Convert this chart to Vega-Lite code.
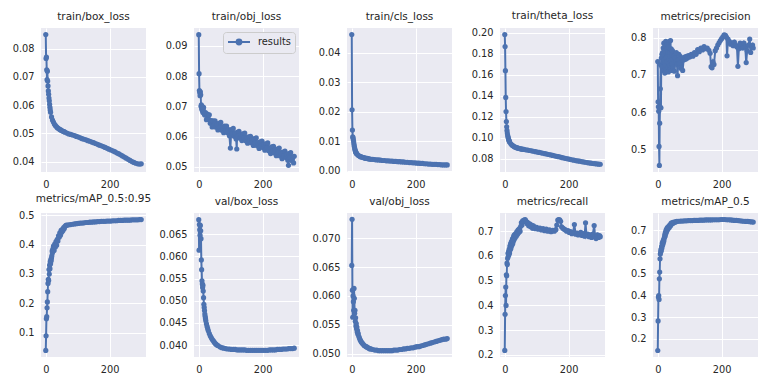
{
"$schema": "https://vega.github.io/schema/vega-lite/v6.json",
"background": "white",
"padding": {"left": 12, "top": 11, "right": 5, "bottom": 5},
"config": {
  "view": {"fill": "#EAEAF2", "stroke": null, "continuousWidth": 105, "continuousHeight": 144},
  "axis": {"domain": false, "ticks": false, "tickSize": 0, "gridColor": "#FFFFFF", "gridWidth": 1, "labelFont": "DejaVu Sans", "labelFontSize": 9.8, "labelColor": "#262626", "labelPadding": 7, "title": null, "labelFlush": false, "labelOverlap": false},
  "title": {"font": "DejaVu Sans", "fontSize": 10.5, "fontWeight": "normal", "color": "#262626", "frame": "group", "anchor": "middle", "offset": 6},
  "line": {"color": "#4C72B0", "strokeWidth": 2},
  "point": {"color": "#4C72B0", "filled": true, "size": 27, "opacity": 1}
},
"datasets": {
"box": [
{"epoch":0,"value":0.0850},{"epoch":1,"value":0.0765},{"epoch":2,"value":0.0770},{"epoch":3,"value":0.0725},{"epoch":4,"value":0.0690},{"epoch":5,"value":0.0720},{"epoch":6,"value":0.0685},{"epoch":7,"value":0.0668},{"epoch":8,"value":0.0650},{"epoch":9,"value":0.0638},{"epoch":10,"value":0.0625},{"epoch":11,"value":0.0615},{"epoch":12,"value":0.0603},{"epoch":13,"value":0.0592},{"epoch":14,"value":0.0583},{"epoch":15,"value":0.0575},{"epoch":18,"value":0.0558},{"epoch":21,"value":0.0547},{"epoch":24,"value":0.0540},{"epoch":27,"value":0.0533},{"epoch":30,"value":0.0528},{"epoch":33,"value":0.0524},{"epoch":36,"value":0.0520},{"epoch":39,"value":0.0518},{"epoch":42,"value":0.0515},{"epoch":45,"value":0.0513},{"epoch":48,"value":0.0511},{"epoch":51,"value":0.0509},{"epoch":54,"value":0.0507},{"epoch":57,"value":0.0506},{"epoch":60,"value":0.0504},{"epoch":66,"value":0.0501},{"epoch":72,"value":0.0498},{"epoch":78,"value":0.0496},{"epoch":84,"value":0.0494},{"epoch":90,"value":0.0492},{"epoch":96,"value":0.0489},{"epoch":102,"value":0.0487},{"epoch":108,"value":0.0484},{"epoch":114,"value":0.0481},{"epoch":120,"value":0.0479},{"epoch":126,"value":0.0477},{"epoch":132,"value":0.0474},{"epoch":138,"value":0.0472},{"epoch":144,"value":0.0469},{"epoch":150,"value":0.0467},{"epoch":156,"value":0.0464},{"epoch":162,"value":0.0461},{"epoch":168,"value":0.0458},{"epoch":174,"value":0.0456},{"epoch":180,"value":0.0453},{"epoch":186,"value":0.0450},{"epoch":192,"value":0.0447},{"epoch":198,"value":0.0444},{"epoch":204,"value":0.0441},{"epoch":210,"value":0.0438},{"epoch":216,"value":0.0435},{"epoch":222,"value":0.0431},{"epoch":228,"value":0.0428},{"epoch":234,"value":0.0424},{"epoch":240,"value":0.0420},{"epoch":246,"value":0.0416},{"epoch":252,"value":0.0412},{"epoch":258,"value":0.0408},{"epoch":264,"value":0.0404},{"epoch":270,"value":0.0400},{"epoch":276,"value":0.0397},{"epoch":282,"value":0.0394},{"epoch":288,"value":0.0392},{"epoch":294,"value":0.0391},{"epoch":299,"value":0.0392}
],
"obj": [
{"epoch":0,"value":0.0937},{"epoch":1,"value":0.0808},{"epoch":2,"value":0.0752},{"epoch":3,"value":0.0745},{"epoch":4,"value":0.0735},{"epoch":5,"value":0.0748},{"epoch":6,"value":0.0738},{"epoch":7,"value":0.0700},{"epoch":8,"value":0.0705},{"epoch":9,"value":0.0692},{"epoch":10,"value":0.0700},{"epoch":11,"value":0.0686},{"epoch":12,"value":0.0698},{"epoch":13,"value":0.0680},{"epoch":14,"value":0.0690},
{"epoch":15,"value":0.0697},{"epoch":18,"value":0.0672},{"epoch":21,"value":0.0679},{"epoch":24,"value":0.0656},{"epoch":27,"value":0.0674},{"epoch":30,"value":0.0657},{"epoch":33,"value":0.0672},{"epoch":36,"value":0.0644},{"epoch":39,"value":0.0653},{"epoch":42,"value":0.0632},{"epoch":45,"value":0.0652},{"epoch":48,"value":0.0637},{"epoch":51,"value":0.0652},{"epoch":54,"value":0.0631},{"epoch":57,"value":0.0641},{"epoch":60,"value":0.0622},{"epoch":63,"value":0.0644},{"epoch":66,"value":0.0631},{"epoch":69,"value":0.0647},{"epoch":72,"value":0.0621},{"epoch":75,"value":0.0632},{"epoch":78,"value":0.0613},{"epoch":81,"value":0.0635},{"epoch":84,"value":0.0620},{"epoch":87,"value":0.0635},{"epoch":90,"value":0.0613},{"epoch":93,"value":0.0623},{"epoch":96,"value":0.0603},{"epoch":99,"value":0.0562},{"epoch":102,"value":0.0623},{"epoch":105,"value":0.0610},{"epoch":108,"value":0.0627},{"epoch":111,"value":0.0601},{"epoch":114,"value":0.0611},{"epoch":117,"value":0.0592},{"epoch":119,"value":0.0559},{"epoch":120,"value":0.0614},{"epoch":123,"value":0.0601},{"epoch":126,"value":0.0617},{"epoch":129,"value":0.0595},{"epoch":132,"value":0.0606},{"epoch":135,"value":0.0587},{"epoch":138,"value":0.0609},{"epoch":141,"value":0.0596},{"epoch":144,"value":0.0612},{"epoch":147,"value":0.0586},{"epoch":150,"value":0.0597},{"epoch":153,"value":0.0578},{"epoch":156,"value":0.0599},{"epoch":159,"value":0.0586},{"epoch":162,"value":0.0601},{"epoch":165,"value":0.0580},{"epoch":168,"value":0.0591},{"epoch":171,"value":0.0571},{"epoch":174,"value":0.0593},{"epoch":177,"value":0.0579},{"epoch":180,"value":0.0596},{"epoch":183,"value":0.0570},{"epoch":186,"value":0.0580},{"epoch":189,"value":0.0561},{"epoch":192,"value":0.0583},{"epoch":195,"value":0.0569},{"epoch":198,"value":0.0585},{"epoch":201,"value":0.0564},{"epoch":204,"value":0.0574},{"epoch":207,"value":0.0555},{"epoch":210,"value":0.0576},{"epoch":213,"value":0.0563},{"epoch":216,"value":0.0579},{"epoch":219,"value":0.0553},{"epoch":222,"value":0.0563},{"epoch":225,"value":0.0544},{"epoch":228,"value":0.0566},{"epoch":231,"value":0.0552},{"epoch":234,"value":0.0568},{"epoch":237,"value":0.0546},{"epoch":240,"value":0.0557},{"epoch":243,"value":0.0537},{"epoch":246,"value":0.0559},{"epoch":249,"value":0.0546},{"epoch":252,"value":0.0562},{"epoch":255,"value":0.0536},{"epoch":258,"value":0.0547},{"epoch":261,"value":0.0527},{"epoch":264,"value":0.0549},{"epoch":267,"value":0.0536},{"epoch":270,"value":0.0552},{"epoch":273,"value":0.0531},{"epoch":276,"value":0.0541},{"epoch":279,"value":0.0522},{"epoch":281,"value":0.0505},{"epoch":282,"value":0.0544},{"epoch":285,"value":0.0531},{"epoch":288,"value":0.0547},{"epoch":291,"value":0.0521},{"epoch":294,"value":0.0532},{"epoch":297,"value":0.0513},{"epoch":299,"value":0.0535}
],
"cls": [
{"epoch":0,"value":0.0462},{"epoch":1,"value":0.0207},{"epoch":2,"value":0.0138},{"epoch":3,"value":0.0115},{"epoch":4,"value":0.0112},{"epoch":5,"value":0.0105},{"epoch":6,"value":0.0098},{"epoch":7,"value":0.0090},{"epoch":8,"value":0.0083},{"epoch":9,"value":0.0077},{"epoch":10,"value":0.0072},{"epoch":11,"value":0.0068},{"epoch":12,"value":0.0065},{"epoch":13,"value":0.0062},{"epoch":14,"value":0.0060},{"epoch":15,"value":0.0058},{"epoch":18,"value":0.0055},{"epoch":21,"value":0.0052},{"epoch":24,"value":0.0050},{"epoch":27,"value":0.0048},{"epoch":30,"value":0.0047},{"epoch":33,"value":0.0046},{"epoch":36,"value":0.0045},{"epoch":39,"value":0.0044},{"epoch":42,"value":0.0043},{"epoch":45,"value":0.0042},{"epoch":48,"value":0.0042},{"epoch":51,"value":0.0041},{"epoch":54,"value":0.0040},{"epoch":57,"value":0.0040},{"epoch":60,"value":0.0039},{"epoch":66,"value":0.0039},{"epoch":72,"value":0.0038},{"epoch":78,"value":0.0037},{"epoch":84,"value":0.0037},{"epoch":90,"value":0.0036},{"epoch":96,"value":0.0035},{"epoch":102,"value":0.0035},{"epoch":108,"value":0.0034},{"epoch":114,"value":0.0034},{"epoch":120,"value":0.0033},{"epoch":126,"value":0.0033},{"epoch":132,"value":0.0032},{"epoch":138,"value":0.0032},{"epoch":144,"value":0.0031},{"epoch":150,"value":0.0031},{"epoch":156,"value":0.0030},{"epoch":162,"value":0.0030},{"epoch":168,"value":0.0029},{"epoch":174,"value":0.0029},{"epoch":180,"value":0.0028},{"epoch":186,"value":0.0028},{"epoch":192,"value":0.0027},{"epoch":198,"value":0.0027},{"epoch":204,"value":0.0026},{"epoch":210,"value":0.0026},{"epoch":216,"value":0.0025},{"epoch":222,"value":0.0025},{"epoch":228,"value":0.0024},{"epoch":234,"value":0.0024},{"epoch":240,"value":0.0023},{"epoch":246,"value":0.0023},{"epoch":252,"value":0.0022},{"epoch":258,"value":0.0022},{"epoch":264,"value":0.0022},{"epoch":270,"value":0.0021},{"epoch":276,"value":0.0021},{"epoch":282,"value":0.0020},{"epoch":288,"value":0.0020},{"epoch":294,"value":0.0020},{"epoch":299,"value":0.0020}
],
"theta": [
{"epoch":0,"value":0.1985},{"epoch":1,"value":0.1870},{"epoch":2,"value":0.1640},{"epoch":3,"value":0.1385},{"epoch":4,"value":0.1250},{"epoch":5,"value":0.1155},{"epoch":6,"value":0.1105},{"epoch":7,"value":0.1070},{"epoch":8,"value":0.1045},{"epoch":9,"value":0.1025},{"epoch":10,"value":0.1010},{"epoch":11,"value":0.0998},{"epoch":12,"value":0.0985},{"epoch":13,"value":0.0975},{"epoch":14,"value":0.0968},{"epoch":15,"value":0.0960},{"epoch":18,"value":0.0945},{"epoch":21,"value":0.0935},{"epoch":24,"value":0.0927},{"epoch":27,"value":0.0920},{"epoch":30,"value":0.0914},{"epoch":33,"value":0.0910},{"epoch":36,"value":0.0906},{"epoch":39,"value":0.0903},{"epoch":42,"value":0.0900},{"epoch":45,"value":0.0897},{"epoch":48,"value":0.0895},{"epoch":51,"value":0.0893},{"epoch":54,"value":0.0891},{"epoch":57,"value":0.0889},{"epoch":60,"value":0.0888},{"epoch":66,"value":0.0885},{"epoch":72,"value":0.0882},{"epoch":78,"value":0.0878},{"epoch":84,"value":0.0875},{"epoch":90,"value":0.0871},{"epoch":96,"value":0.0867},{"epoch":102,"value":0.0863},{"epoch":108,"value":0.0860},{"epoch":114,"value":0.0856},{"epoch":120,"value":0.0852},{"epoch":126,"value":0.0848},{"epoch":132,"value":0.0844},{"epoch":138,"value":0.0840},{"epoch":144,"value":0.0836},{"epoch":150,"value":0.0831},{"epoch":156,"value":0.0827},{"epoch":162,"value":0.0823},{"epoch":168,"value":0.0819},{"epoch":174,"value":0.0815},{"epoch":180,"value":0.0810},{"epoch":186,"value":0.0806},{"epoch":192,"value":0.0802},{"epoch":198,"value":0.0798},{"epoch":204,"value":0.0794},{"epoch":210,"value":0.0790},{"epoch":216,"value":0.0786},{"epoch":222,"value":0.0782},{"epoch":228,"value":0.0779},{"epoch":234,"value":0.0776},{"epoch":240,"value":0.0772},{"epoch":246,"value":0.0769},{"epoch":252,"value":0.0766},{"epoch":258,"value":0.0763},{"epoch":264,"value":0.0760},{"epoch":270,"value":0.0757},{"epoch":276,"value":0.0754},{"epoch":282,"value":0.0752},{"epoch":288,"value":0.0750},{"epoch":294,"value":0.0748},{"epoch":299,"value":0.0747}
],
"prec": [
{"epoch":0,"value":0.736},{"epoch":1,"value":0.628},{"epoch":2,"value":0.615},{"epoch":3,"value":0.603},{"epoch":4,"value":0.509},{"epoch":5,"value":0.458},{"epoch":6,"value":0.571},{"epoch":7,"value":0.615},{"epoch":8,"value":0.663},{"epoch":9,"value":0.727},{"epoch":10,"value":0.612},{"epoch":11,"value":0.745},{"epoch":12,"value":0.725},{"epoch":13,"value":0.755},{"epoch":14,"value":0.720},{"epoch":15,"value":0.760},{"epoch":16,"value":0.735},{"epoch":17,"value":0.772},{"epoch":18,"value":0.712},{"epoch":19,"value":0.785},{"epoch":20,"value":0.740},{"epoch":21,"value":0.765},{"epoch":22,"value":0.705},{"epoch":23,"value":0.778},{"epoch":24,"value":0.728},{"epoch":25,"value":0.790},{"epoch":26,"value":0.745},{"epoch":27,"value":0.715},{"epoch":28,"value":0.770},{"epoch":29,"value":0.735},{"epoch":30,"value":0.782},{"epoch":31,"value":0.720},{"epoch":32,"value":0.760},{"epoch":33,"value":0.708},{"epoch":34,"value":0.775},{"epoch":35,"value":0.742},{"epoch":36,"value":0.790},{"epoch":37,"value":0.725},{"epoch":38,"value":0.760},{"epoch":39,"value":0.715},{"epoch":40,"value":0.792},{"epoch":41,"value":0.740},{"epoch":42,"value":0.770},{"epoch":43,"value":0.712},{"epoch":44,"value":0.755},{"epoch":45,"value":0.730},{"epoch":46,"value":0.765},{"epoch":48,"value":0.720},{"epoch":50,"value":0.750},{"epoch":52,"value":0.710},{"epoch":54,"value":0.745},{"epoch":56,"value":0.735},{"epoch":58,"value":0.760},{"epoch":60,"value":0.728},{"epoch":62,"value":0.698},{"epoch":64,"value":0.740},{"epoch":66,"value":0.755},{"epoch":68,"value":0.730},{"epoch":70,"value":0.750},{"epoch":72,"value":0.718},{"epoch":75,"value":0.745},{"epoch":78,"value":0.712},{"epoch":81,"value":0.740},{"epoch":84,"value":0.748},{"epoch":87,"value":0.742},{"epoch":90,"value":0.750},{"epoch":93,"value":0.745},{"epoch":96,"value":0.752},{"epoch":100,"value":0.748},{"epoch":105,"value":0.755},{"epoch":110,"value":0.750},{"epoch":115,"value":0.760},{"epoch":120,"value":0.755},{"epoch":125,"value":0.768},{"epoch":130,"value":0.762},{"epoch":135,"value":0.772},{"epoch":140,"value":0.767},{"epoch":145,"value":0.776},{"epoch":150,"value":0.770},{"epoch":155,"value":0.772},{"epoch":160,"value":0.766},{"epoch":164,"value":0.758},{"epoch":167,"value":0.722},{"epoch":170,"value":0.719},{"epoch":173,"value":0.735},{"epoch":176,"value":0.728},{"epoch":180,"value":0.765},{"epoch":184,"value":0.772},{"epoch":188,"value":0.780},{"epoch":192,"value":0.786},{"epoch":196,"value":0.792},{"epoch":200,"value":0.797},{"epoch":204,"value":0.802},{"epoch":208,"value":0.807},{"epoch":212,"value":0.806},{"epoch":215,"value":0.801},{"epoch":217,"value":0.751},{"epoch":220,"value":0.796},{"epoch":224,"value":0.790},{"epoch":228,"value":0.782},{"epoch":232,"value":0.786},{"epoch":236,"value":0.778},{"epoch":240,"value":0.788},{"epoch":244,"value":0.780},{"epoch":248,"value":0.775},{"epoch":251,"value":0.723},{"epoch":254,"value":0.770},{"epoch":258,"value":0.785},{"epoch":262,"value":0.780},{"epoch":266,"value":0.772},{"epoch":270,"value":0.785},{"epoch":274,"value":0.775},{"epoch":277,"value":0.733},{"epoch":280,"value":0.765},{"epoch":284,"value":0.780},{"epoch":288,"value":0.796},{"epoch":291,"value":0.760},{"epoch":294,"value":0.775},{"epoch":297,"value":0.780},{"epoch":299,"value":0.772}
],
"map95": [
{"epoch":0,"value":0.040},{"epoch":1,"value":0.090},{"epoch":2,"value":0.148},{"epoch":3,"value":0.155},{"epoch":4,"value":0.185},{"epoch":5,"value":0.205},{"epoch":6,"value":0.240},{"epoch":7,"value":0.268},{"epoch":8,"value":0.282},{"epoch":9,"value":0.278},{"epoch":10,"value":0.315},{"epoch":11,"value":0.300},{"epoch":12,"value":0.330},{"epoch":13,"value":0.318},{"epoch":14,"value":0.342},{"epoch":15,"value":0.335},{"epoch":16,"value":0.350},{"epoch":17,"value":0.345},{"epoch":18,"value":0.355},{"epoch":19,"value":0.362},{"epoch":20,"value":0.378},{"epoch":21,"value":0.372},{"epoch":22,"value":0.385},{"epoch":24,"value":0.395},{"epoch":26,"value":0.380},{"epoch":28,"value":0.402},{"epoch":30,"value":0.392},{"epoch":32,"value":0.410},{"epoch":34,"value":0.398},{"epoch":36,"value":0.418},{"epoch":38,"value":0.412},{"epoch":40,"value":0.430},{"epoch":42,"value":0.425},{"epoch":44,"value":0.440},{"epoch":46,"value":0.432},{"epoch":48,"value":0.448},{"epoch":50,"value":0.442},{"epoch":52,"value":0.452},{"epoch":54,"value":0.448},{"epoch":56,"value":0.458},{"epoch":58,"value":0.455},{"epoch":60,"value":0.462},{"epoch":63,"value":0.465},{"epoch":66,"value":0.466},{"epoch":72,"value":0.467},{"epoch":78,"value":0.468},{"epoch":84,"value":0.469},{"epoch":90,"value":0.470},{"epoch":96,"value":0.471},{"epoch":102,"value":0.472},{"epoch":108,"value":0.473},{"epoch":114,"value":0.473},{"epoch":120,"value":0.474},{"epoch":126,"value":0.475},{"epoch":132,"value":0.475},{"epoch":138,"value":0.476},{"epoch":144,"value":0.476},{"epoch":150,"value":0.477},{"epoch":156,"value":0.477},{"epoch":162,"value":0.478},{"epoch":168,"value":0.478},{"epoch":174,"value":0.479},{"epoch":180,"value":0.479},{"epoch":186,"value":0.479},{"epoch":192,"value":0.480},{"epoch":198,"value":0.480},{"epoch":204,"value":0.480},{"epoch":210,"value":0.481},{"epoch":216,"value":0.481},{"epoch":222,"value":0.481},{"epoch":228,"value":0.482},{"epoch":234,"value":0.482},{"epoch":240,"value":0.482},{"epoch":246,"value":0.483},{"epoch":252,"value":0.483},{"epoch":258,"value":0.483},{"epoch":264,"value":0.483},{"epoch":270,"value":0.484},{"epoch":276,"value":0.484},{"epoch":282,"value":0.484},{"epoch":288,"value":0.484},{"epoch":294,"value":0.485},{"epoch":299,"value":0.485}
],
"vbox": [
{"epoch":0,"value":0.0683},{"epoch":1,"value":0.0614},{"epoch":2,"value":0.0672},{"epoch":3,"value":0.0660},{"epoch":4,"value":0.0648},{"epoch":5,"value":0.0670},{"epoch":6,"value":0.0658},{"epoch":7,"value":0.0640},{"epoch":8,"value":0.0592},{"epoch":9,"value":0.0570},{"epoch":10,"value":0.0545},{"epoch":11,"value":0.0538},{"epoch":12,"value":0.0530},{"epoch":13,"value":0.0535},{"epoch":14,"value":0.0522},{"epoch":15,"value":0.0507},{"epoch":16,"value":0.0492},{"epoch":17,"value":0.0485},{"epoch":18,"value":0.0478},{"epoch":19,"value":0.0470},{"epoch":20,"value":0.0465},{"epoch":21,"value":0.0460},{"epoch":22,"value":0.0455},{"epoch":24,"value":0.0448},{"epoch":26,"value":0.0442},{"epoch":28,"value":0.0437},{"epoch":30,"value":0.0432},{"epoch":33,"value":0.0426},{"epoch":36,"value":0.0421},{"epoch":39,"value":0.0417},{"epoch":42,"value":0.0413},{"epoch":45,"value":0.0410},{"epoch":48,"value":0.0407},{"epoch":51,"value":0.0404},{"epoch":54,"value":0.0402},{"epoch":57,"value":0.0400},{"epoch":60,"value":0.0399},{"epoch":66,"value":0.0396},{"epoch":72,"value":0.0394},{"epoch":78,"value":0.0393},{"epoch":84,"value":0.0392},{"epoch":90,"value":0.0391},{"epoch":96,"value":0.0391},{"epoch":102,"value":0.0390},{"epoch":108,"value":0.0390},{"epoch":114,"value":0.0390},{"epoch":120,"value":0.0389},{"epoch":126,"value":0.0389},{"epoch":132,"value":0.0389},{"epoch":138,"value":0.0389},{"epoch":144,"value":0.0389},{"epoch":150,"value":0.0388},{"epoch":156,"value":0.0388},{"epoch":162,"value":0.0388},{"epoch":168,"value":0.0388},{"epoch":174,"value":0.0388},{"epoch":180,"value":0.0388},{"epoch":186,"value":0.0388},{"epoch":192,"value":0.0388},{"epoch":198,"value":0.0388},{"epoch":204,"value":0.0388},{"epoch":210,"value":0.0388},{"epoch":216,"value":0.0388},{"epoch":222,"value":0.0389},{"epoch":228,"value":0.0389},{"epoch":234,"value":0.0389},{"epoch":240,"value":0.0389},{"epoch":246,"value":0.0390},{"epoch":252,"value":0.0390},{"epoch":258,"value":0.0390},{"epoch":264,"value":0.0391},{"epoch":270,"value":0.0391},{"epoch":276,"value":0.0391},{"epoch":282,"value":0.0392},{"epoch":288,"value":0.0392},{"epoch":294,"value":0.0392},{"epoch":299,"value":0.0393}
],
"vobj": [
{"epoch":0,"value":0.0653},{"epoch":1,"value":0.0733},{"epoch":2,"value":0.0610},{"epoch":3,"value":0.0563},{"epoch":4,"value":0.0600},{"epoch":5,"value":0.0590},{"epoch":6,"value":0.0575},{"epoch":7,"value":0.0613},{"epoch":8,"value":0.0596},{"epoch":9,"value":0.0570},{"epoch":10,"value":0.0575},{"epoch":11,"value":0.0556},{"epoch":12,"value":0.0562},{"epoch":13,"value":0.0548},{"epoch":14,"value":0.0552},{"epoch":15,"value":0.0543},{"epoch":16,"value":0.0546},{"epoch":17,"value":0.0538},{"epoch":18,"value":0.0540},{"epoch":19,"value":0.0534},{"epoch":20,"value":0.0535},{"epoch":22,"value":0.0530},{"epoch":24,"value":0.0527},{"epoch":26,"value":0.0524},{"epoch":28,"value":0.0522},{"epoch":30,"value":0.0520},{"epoch":33,"value":0.0518},{"epoch":36,"value":0.0516},{"epoch":39,"value":0.0514},{"epoch":42,"value":0.0513},{"epoch":45,"value":0.0512},{"epoch":48,"value":0.0511},{"epoch":51,"value":0.0510},{"epoch":54,"value":0.0509},{"epoch":57,"value":0.0508},{"epoch":60,"value":0.0508},{"epoch":66,"value":0.0507},{"epoch":72,"value":0.0506},{"epoch":78,"value":0.0506},{"epoch":84,"value":0.0505},{"epoch":90,"value":0.0505},{"epoch":96,"value":0.0505},{"epoch":102,"value":0.0505},{"epoch":108,"value":0.0505},{"epoch":114,"value":0.0505},{"epoch":120,"value":0.0505},{"epoch":126,"value":0.0505},{"epoch":132,"value":0.0506},{"epoch":138,"value":0.0506},{"epoch":144,"value":0.0506},{"epoch":150,"value":0.0507},{"epoch":156,"value":0.0507},{"epoch":162,"value":0.0508},{"epoch":168,"value":0.0508},{"epoch":174,"value":0.0509},{"epoch":180,"value":0.0509},{"epoch":186,"value":0.0510},{"epoch":192,"value":0.0510},{"epoch":198,"value":0.0511},{"epoch":204,"value":0.0512},{"epoch":210,"value":0.0512},{"epoch":216,"value":0.0513},{"epoch":222,"value":0.0514},{"epoch":228,"value":0.0515},{"epoch":234,"value":0.0516},{"epoch":240,"value":0.0517},{"epoch":246,"value":0.0518},{"epoch":252,"value":0.0519},{"epoch":258,"value":0.0520},{"epoch":264,"value":0.0521},{"epoch":270,"value":0.0522},{"epoch":276,"value":0.0523},{"epoch":282,"value":0.0524},{"epoch":288,"value":0.0525},{"epoch":294,"value":0.0525},{"epoch":299,"value":0.0526}
],
"recall": [
{"epoch":0,"value":0.218},{"epoch":1,"value":0.364},{"epoch":2,"value":0.440},{"epoch":3,"value":0.474},{"epoch":4,"value":0.400},{"epoch":5,"value":0.524},{"epoch":6,"value":0.520},{"epoch":7,"value":0.571},{"epoch":8,"value":0.565},{"epoch":9,"value":0.590},{"epoch":10,"value":0.610},{"epoch":11,"value":0.599},{"epoch":12,"value":0.619},{"epoch":13,"value":0.605},{"epoch":14,"value":0.628},{"epoch":15,"value":0.612},{"epoch":16,"value":0.640},{"epoch":17,"value":0.625},{"epoch":18,"value":0.648},{"epoch":19,"value":0.630},{"epoch":20,"value":0.655},{"epoch":21,"value":0.640},{"epoch":22,"value":0.660},{"epoch":23,"value":0.645},{"epoch":24,"value":0.668},{"epoch":25,"value":0.650},{"epoch":26,"value":0.672},{"epoch":27,"value":0.660},{"epoch":28,"value":0.680},{"epoch":29,"value":0.665},{"epoch":30,"value":0.685},{"epoch":32,"value":0.672},{"epoch":34,"value":0.690},{"epoch":36,"value":0.680},{"epoch":38,"value":0.698},{"epoch":40,"value":0.688},{"epoch":42,"value":0.705},{"epoch":44,"value":0.695},{"epoch":46,"value":0.710},{"epoch":48,"value":0.700},{"epoch":50,"value":0.720},{"epoch":52,"value":0.735},{"epoch":54,"value":0.725},{"epoch":56,"value":0.742},{"epoch":58,"value":0.738},{"epoch":60,"value":0.745},{"epoch":62,"value":0.740},{"epoch":64,"value":0.747},{"epoch":66,"value":0.742},{"epoch":68,"value":0.738},{"epoch":70,"value":0.730},{"epoch":72,"value":0.735},{"epoch":75,"value":0.722},{"epoch":78,"value":0.730},{"epoch":81,"value":0.718},{"epoch":84,"value":0.725},{"epoch":87,"value":0.712},{"epoch":90,"value":0.722},{"epoch":93,"value":0.715},{"epoch":96,"value":0.710},{"epoch":100,"value":0.716},{"epoch":105,"value":0.708},{"epoch":110,"value":0.712},{"epoch":115,"value":0.705},{"epoch":120,"value":0.710},{"epoch":125,"value":0.702},{"epoch":130,"value":0.708},{"epoch":135,"value":0.700},{"epoch":140,"value":0.705},{"epoch":145,"value":0.698},{"epoch":150,"value":0.703},{"epoch":155,"value":0.700},{"epoch":160,"value":0.706},{"epoch":163,"value":0.725},{"epoch":166,"value":0.745},{"epoch":169,"value":0.747},{"epoch":172,"value":0.746},{"epoch":175,"value":0.740},{"epoch":178,"value":0.718},{"epoch":182,"value":0.712},{"epoch":186,"value":0.708},{"epoch":190,"value":0.705},{"epoch":194,"value":0.700},{"epoch":198,"value":0.702},{"epoch":202,"value":0.695},{"epoch":206,"value":0.698},{"epoch":210,"value":0.690},{"epoch":214,"value":0.695},{"epoch":218,"value":0.727},{"epoch":222,"value":0.688},{"epoch":226,"value":0.692},{"epoch":230,"value":0.685},{"epoch":234,"value":0.690},{"epoch":238,"value":0.695},{"epoch":242,"value":0.683},{"epoch":246,"value":0.690},{"epoch":250,"value":0.680},{"epoch":253,"value":0.734},{"epoch":256,"value":0.682},{"epoch":260,"value":0.688},{"epoch":264,"value":0.678},{"epoch":268,"value":0.685},{"epoch":272,"value":0.675},{"epoch":276,"value":0.688},{"epoch":280,"value":0.723},{"epoch":283,"value":0.678},{"epoch":286,"value":0.670},{"epoch":290,"value":0.685},{"epoch":294,"value":0.675},{"epoch":297,"value":0.682},{"epoch":299,"value":0.678}
],
"map50": [
{"epoch":0,"value":0.146},{"epoch":1,"value":0.282},{"epoch":2,"value":0.392},{"epoch":3,"value":0.399},{"epoch":4,"value":0.381},{"epoch":5,"value":0.476},{"epoch":6,"value":0.507},{"epoch":7,"value":0.568},{"epoch":8,"value":0.590},{"epoch":9,"value":0.600},{"epoch":10,"value":0.612},{"epoch":11,"value":0.605},{"epoch":12,"value":0.625},{"epoch":13,"value":0.618},{"epoch":14,"value":0.640},{"epoch":15,"value":0.630},{"epoch":16,"value":0.648},{"epoch":17,"value":0.640},{"epoch":18,"value":0.655},{"epoch":19,"value":0.650},{"epoch":20,"value":0.662},{"epoch":21,"value":0.668},{"epoch":22,"value":0.680},{"epoch":23,"value":0.672},{"epoch":24,"value":0.690},{"epoch":25,"value":0.683},{"epoch":26,"value":0.700},{"epoch":27,"value":0.692},{"epoch":28,"value":0.705},{"epoch":29,"value":0.698},{"epoch":30,"value":0.712},{"epoch":32,"value":0.705},{"epoch":34,"value":0.718},{"epoch":36,"value":0.712},{"epoch":38,"value":0.725},{"epoch":40,"value":0.720},{"epoch":42,"value":0.732},{"epoch":44,"value":0.728},{"epoch":46,"value":0.735},{"epoch":48,"value":0.732},{"epoch":50,"value":0.737},{"epoch":54,"value":0.736},{"epoch":57,"value":0.739},{"epoch":60,"value":0.740},{"epoch":66,"value":0.741},{"epoch":72,"value":0.742},{"epoch":78,"value":0.742},{"epoch":84,"value":0.743},{"epoch":90,"value":0.743},{"epoch":96,"value":0.744},{"epoch":102,"value":0.744},{"epoch":108,"value":0.744},{"epoch":114,"value":0.745},{"epoch":120,"value":0.745},{"epoch":126,"value":0.745},{"epoch":132,"value":0.746},{"epoch":138,"value":0.746},{"epoch":144,"value":0.746},{"epoch":150,"value":0.747},{"epoch":156,"value":0.747},{"epoch":162,"value":0.747},{"epoch":168,"value":0.747},{"epoch":174,"value":0.748},{"epoch":180,"value":0.748},{"epoch":186,"value":0.748},{"epoch":192,"value":0.748},{"epoch":198,"value":0.749},{"epoch":204,"value":0.749},{"epoch":210,"value":0.749},{"epoch":216,"value":0.748},{"epoch":222,"value":0.748},{"epoch":228,"value":0.747},{"epoch":234,"value":0.746},{"epoch":240,"value":0.745},{"epoch":246,"value":0.745},{"epoch":252,"value":0.744},{"epoch":258,"value":0.743},{"epoch":264,"value":0.742},{"epoch":270,"value":0.741},{"epoch":276,"value":0.740},{"epoch":282,"value":0.740},{"epoch":288,"value":0.739},{"epoch":294,"value":0.738},{"epoch":299,"value":0.737}
]
},
"columns": 5,
"spacing": {"row": 41, "column": 48},
"bounds": "flush",
"resolve": {"scale": {"color": "independent"}, "legend": {"color": "independent"}},
"concat": [
{"title": "train/box_loss", "data": {"name": "box"}, "mark": {"type": "line", "point": true},
 "encoding": {"x": {"field": "epoch", "type": "quantitative", "scale": {"domain": [-14.95, 313.95], "nice": false, "zero": false}, "axis": {"values": [0, 200]}},
  "y": {"field": "value", "type": "quantitative", "scale": {"domain": [0.0363, 0.0873], "nice": false, "zero": false}, "axis": {"values": [0.04, 0.05, 0.06, 0.07, 0.08], "format": ".2f"}}}},
{"title": "train/obj_loss", "data": {"name": "obj"}, "mark": {"type": "line", "point": true},
 "encoding": {"x": {"field": "epoch", "type": "quantitative", "scale": {"domain": [-14.95, 313.95], "nice": false, "zero": false}, "axis": {"values": [0, 200]}},
  "y": {"field": "value", "type": "quantitative", "scale": {"domain": [0.0483, 0.0959], "nice": false, "zero": false}, "axis": {"values": [0.05, 0.06, 0.07, 0.08, 0.09], "format": ".2f"}},
  "color": {"datum": "results", "type": "nominal", "scale": {"range": ["#4C72B0"]},
   "legend": {"title": null, "orient": "top-right", "offset": 4, "padding": 4, "fillColor": "#EAEAF2", "strokeColor": "#CCCCCC", "cornerRadius": 3, "labelFont": "DejaVu Sans", "labelFontSize": 9.8, "labelColor": "#262626", "labelOffset": 19,
    "symbolType": "M-1,0L3.4,0M0.72,0A0.48,0.48,0,1,1,1.68,0A0.48,0.48,0,1,1,0.72,0", "symbolSize": 100, "symbolStrokeWidth": 1.6, "symbolFillColor": "#4C72B0", "symbolStrokeColor": "#4C72B0",
    "encode": {"symbols": {"update": {"shape": {"value": "M-1,0L3.4,0M0.72,0A0.48,0.48,0,1,1,1.68,0A0.48,0.48,0,1,1,0.72,0"}, "size": {"value": 100}, "fill": {"value": "#4C72B0"}, "stroke": {"value": "#4C72B0"}, "strokeWidth": {"value": 1.6}, "opacity": {"value": 1}}}}}}}},
{"title": "train/cls_loss", "data": {"name": "cls"}, "mark": {"type": "line", "point": true},
 "encoding": {"x": {"field": "epoch", "type": "quantitative", "scale": {"domain": [-14.95, 313.95], "nice": false, "zero": false}, "axis": {"values": [0, 200]}},
  "y": {"field": "value", "type": "quantitative", "scale": {"domain": [-0.0004, 0.0484], "nice": false, "zero": false}, "axis": {"values": [0, 0.01, 0.02, 0.03, 0.04], "format": ".2f"}}}},
{"title": "train/theta_loss", "data": {"name": "theta"}, "mark": {"type": "line", "point": true},
 "encoding": {"x": {"field": "epoch", "type": "quantitative", "scale": {"domain": [-14.95, 313.95], "nice": false, "zero": false}, "axis": {"values": [0, 200]}},
  "y": {"field": "value", "type": "quantitative", "scale": {"domain": [0.0673, 0.2047], "nice": false, "zero": false}, "axis": {"values": [0.08, 0.10, 0.12, 0.14, 0.16, 0.18, 0.20], "format": ".2f"}}}},
{"title": "metrics/precision", "data": {"name": "prec"}, "mark": {"type": "line", "point": true},
 "encoding": {"x": {"field": "epoch", "type": "quantitative", "scale": {"domain": [-14.95, 313.95], "nice": false, "zero": false}, "axis": {"values": [0, 200]}},
  "y": {"field": "value", "type": "quantitative", "scale": {"domain": [0.4405, 0.8255], "nice": false, "zero": false}, "axis": {"values": [0.5, 0.6, 0.7, 0.8], "format": ".1f"}}}},
{"title": "metrics/mAP_0.5:0.95", "data": {"name": "map95"}, "mark": {"type": "line", "point": true},
 "encoding": {"x": {"field": "epoch", "type": "quantitative", "scale": {"domain": [-14.95, 313.95], "nice": false, "zero": false}, "axis": {"values": [0, 200]}},
  "y": {"field": "value", "type": "quantitative", "scale": {"domain": [0.0178, 0.5073], "nice": false, "zero": false}, "axis": {"values": [0.1, 0.2, 0.3, 0.4, 0.5], "format": ".1f"}}}},
{"title": "val/box_loss", "data": {"name": "vbox"}, "mark": {"type": "line", "point": true},
 "encoding": {"x": {"field": "epoch", "type": "quantitative", "scale": {"domain": [-14.95, 313.95], "nice": false, "zero": false}, "axis": {"values": [0, 200]}},
  "y": {"field": "value", "type": "quantitative", "scale": {"domain": [0.0373, 0.0698], "nice": false, "zero": false}, "axis": {"values": [0.040, 0.045, 0.050, 0.055, 0.060, 0.065], "format": ".3f"}}}},
{"title": "val/obj_loss", "data": {"name": "vobj"}, "mark": {"type": "line", "point": true},
 "encoding": {"x": {"field": "epoch", "type": "quantitative", "scale": {"domain": [-14.95, 313.95], "nice": false, "zero": false}, "axis": {"values": [0, 200]}},
  "y": {"field": "value", "type": "quantitative", "scale": {"domain": [0.0494, 0.0744], "nice": false, "zero": false}, "axis": {"values": [0.050, 0.055, 0.060, 0.065, 0.070], "format": ".3f"}}}},
{"title": "metrics/recall", "data": {"name": "recall"}, "mark": {"type": "line", "point": true},
 "encoding": {"x": {"field": "epoch", "type": "quantitative", "scale": {"domain": [-14.95, 313.95], "nice": false, "zero": false}, "axis": {"values": [0, 200]}},
  "y": {"field": "value", "type": "quantitative", "scale": {"domain": [0.1916, 0.7735], "nice": false, "zero": false}, "axis": {"values": [0.2, 0.3, 0.4, 0.5, 0.6, 0.7], "format": ".1f"}}}},
{"title": "metrics/mAP_0.5", "data": {"name": "map50"}, "mark": {"type": "line", "point": true},
 "encoding": {"x": {"field": "epoch", "type": "quantitative", "scale": {"domain": [-14.95, 313.95], "nice": false, "zero": false}, "axis": {"values": [0, 200]}},
  "y": {"field": "value", "type": "quantitative", "scale": {"domain": [0.116, 0.779], "nice": false, "zero": false}, "axis": {"values": [0.2, 0.3, 0.4, 0.5, 0.6, 0.7], "format": ".1f"}}}}
]
}
